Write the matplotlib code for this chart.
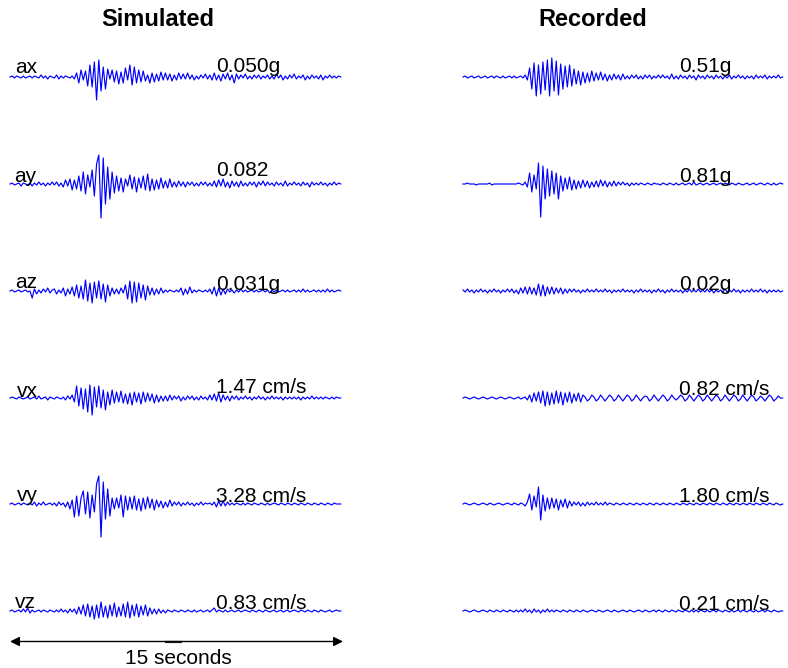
import numpy as np
import matplotlib
matplotlib.use("Agg")
import matplotlib.pyplot as plt

plt.rcParams['font.family'] = ['Liberation Sans', 'DejaVu Sans']

# ---------------- data (trace deflections, sampled every 0.1 s) ----------------
components = ["ax", "ay", "az", "vx", "vy", "vz"]
sim_peaks = ["0.050g", "0.082", "0.031g", "1.47 cm/s", "3.28 cm/s", "0.83 cm/s"]
rec_peaks = ["0.51g", "0.81g", "0.02g", "0.82 cm/s", "1.80 cm/s", "0.21 cm/s"]

sim_ax = [0,1,-1,1,0,-1,1,-1,0,1,
          -1,1,0,-1,2,-1,1,-2,1,0,
          -1,2,-2,1,-1,1,0,-1,1,-2,
          4,-6,7,-3,6,-9,12,-10,15,-23,
          17,-14,10,-12,8,-2,7,-5,6,-7,
          5,-6,9,-3,12,-8,10,-6,7,-5,
          6,-4,2,-6,4,-5,3,-4,5,-3,
          4,-3,3,-4,2,-3,4,-2,3,-2,
          4,-2,2,-3,1,-2,2,-1,3,-2,
          2,-3,4,-3,2,-4,3,-2,4,-3,
          2,-6,3,-2,2,-1,3,-2,1,-2,
          2,-1,2,-2,1,-1,2,-2,1,-2,
          3,-1,2,-3,1,-2,2,-1,3,-2,
          1,-1,2,-3,1,-2,2,-1,1,-2,
          2,-3,1,-1,2,-1,1,-1,1,0]
sim_ay = [0,1,-1,0,1,-2,1,0,-1,1,
          -2,1,-1,2,-1,1,-2,1,-1,2,
          -1,2,-2,1,-3,4,-2,5,-6,4,
          -5,8,-7,12,-10,9,-3,14,-12,20,
          29,-34,26,-20,17,-15,12,-9,8,-7,
          6,-8,5,-2,9,-5,7,-8,6,-4,
          8,-6,10,-7,5,-6,4,-5,6,-4,
          3,-4,5,-3,2,-3,3,-2,2,-3,
          2,-1,2,-2,1,-2,2,-1,2,-2,
          1,-2,3,-3,4,-2,5,-3,2,-4,
          3,-2,2,-3,3,-2,1,-2,2,-1,
          2,-3,2,-1,3,-2,2,-1,1,-2,
          2,-1,1,-2,3,-2,1,-1,2,-1,
          1,-2,2,-1,1,-3,2,-1,1,-1,
          2,-1,1,-2,1,-1,2,-1,1,0]
sim_az = [0,1,-1,0,1,-1,0,1,-1,0,
          -7,2,-3,1,-2,2,-1,3,-2,1,
          2,-3,1,-2,3,-5,2,-3,4,-5,
          6,-7,5,-8,11,-10,8,-12,9,-7,
          10,-8,7,-11,6,-5,3,-3,2,-3,
          3,-2,6,-8,10,-12,9,-11,8,-7,
          6,-9,5,-4,3,-4,2,-3,3,-2,
          1,-1,1,0,-1,1,-1,3,-4,2,
          -3,4,-2,1,-1,1,0,-1,1,-1,
          2,-3,4,-5,3,-4,2,-3,2,-1,
          1,-2,1,-1,2,-1,1,-1,0,1,
          -1,1,-1,0,1,-1,1,-2,1,-1,
          1,-1,0,1,-1,1,-1,0,1,-1,
          1,-1,2,-1,1,-1,0,1,-1,1,
          -1,1,-1,2,-1,1,-1,0,1,0]
sim_vx = [0,1,0,-1,1,0,-1,0,1,-1,
          0,1,-1,2,-1,0,1,-2,1,0,
          -1,1,0,-1,1,-2,2,-1,3,-4,
          12,-8,10,-11,9,-14,13,-17,11,-9,
          12,-10,8,-12,6,-7,8,-5,6,-4,
          7,-5,4,-6,5,-7,6,-4,5,-6,
          6,-4,5,-3,4,-5,3,-4,2,-3,
          2,-3,3,-2,2,-1,2,-3,1,-2,
          2,-1,2,-2,1,-2,2,-1,1,-2,
          3,-2,4,-3,5,-4,3,-2,2,-3,
          2,-1,2,-2,1,-1,2,-1,1,-2,
          1,-1,2,-1,1,-2,1,-1,2,-1,
          1,-1,1,-2,1,-1,1,-1,1,-1,
          1,-2,1,-1,1,-1,2,-1,1,-1,
          1,-1,1,0,-1,1,-1,1,0,0]
sim_vy = [0,1,-1,0,1,-1,1,0,-1,1,
          -1,2,-2,1,-1,2,-1,0,1,-1,
          1,-2,2,-1,1,-3,2,-5,4,-13,
          8,-12,6,13,-10,12,-14,9,-8,20,
          28,-33,22,-15,15,-12,6,-5,6,-4,
          9,-13,8,-6,7,-5,8,-6,5,-7,
          6,-5,7,-4,5,-6,4,-3,3,-4,
          2,-3,4,-2,2,-1,2,-2,1,-1,
          2,-1,1,-2,1,-1,2,-1,1,0,
          1,-1,2,-3,3,-2,3,-2,2,-1,
          1,-1,1,0,-1,1,-1,1,0,-1,
          1,0,-1,1,0,-1,1,-1,0,1,
          0,-1,1,0,-1,1,0,-1,1,0,
          -1,1,0,-1,1,0,-1,1,0,-1,
          1,0,-1,1,0,-1,1,0,0,0]
sim_vz = [0,1,-1,0,1,-1,2,-1,3,-2,
          1,-1,0,1,-1,1,0,-1,1,0,
          -1,1,-1,2,-1,1,-2,2,-1,2,
          -3,4,-3,6,-5,7,-6,5,-8,6,
          -7,9,-6,5,-7,6,-5,8,-6,4,
          -5,7,-6,9,-7,6,-5,7,-6,5,
          -4,6,-5,3,-3,2,-3,2,-2,1,
          -2,1,0,-1,1,0,-1,1,0,-1,
          1,0,-1,1,-1,0,1,-1,0,1,
          -1,1,3,-1,1,0,-1,1,-1,0,
          1,-1,0,1,-1,0,1,0,-1,1,
          0,-1,1,0,-1,1,0,-1,0,1,
          -1,0,1,-1,0,1,-1,0,1,0,
          -1,1,0,-1,1,0,-1,1,0,-1,
          1,0,-1,0,1,-1,0,1,0,0]

rec_ax = [0,1,-1,0,1,-1,0,1,-1,0,
          1,-1,0,1,-1,1,0,-1,1,-1,
          0,1,-1,1,-1,0,1,-1,2,-3,
          9,-12,14,-19,12,-17,15,-13,17,-19,
          19,-14,16,-18,13,-12,11,-10,12,-9,
          8,-7,6,-8,5,-6,4,-5,6,-4,
          4,-3,5,-3,3,-4,2,-3,3,-2,
          2,-3,3,-2,1,-2,2,-1,2,-2,
          1,-2,2,-1,2,-2,1,-1,2,-1,
          2,-1,1,-2,3,-2,1,-2,2,-1,
          1,-2,2,-1,1,-3,2,-1,1,-2,
          2,-1,1,-2,2,-1,1,-2,1,-1,
          2,-2,1,-1,2,-1,1,-2,1,-1,
          1,-2,2,-1,1,-1,2,-2,1,-1,
          1,-1,2,-1,0]
rec_ay = [0,0,1,0,0,0,-1,0,0,0,
          0,0,1,-1,0,0,0,0,0,0,
          0,0,0,0,0,1,0,-1,2,-3,
          11,-8,9,-5,21,-33,18,-15,15,-12,
          13,-10,11,-15,8,-7,6,-5,7,-6,
          4,-5,3,-4,4,-3,3,-4,2,-3,
          3,-3,4,-2,3,-3,2,-2,3,-2,
          2,-1,2,-1,1,-2,1,-1,1,-1,
          1,0,-1,1,0,-1,1,0,0,-1,
          1,0,-1,1,0,-1,1,-1,0,1,
          -1,0,1,-1,2,-1,0,1,-1,0,
          1,-1,0,1,-1,0,1,-1,1,0,
          -1,1,0,-1,1,0,-1,0,1,-1,
          0,1,-1,0,1,0,-1,1,0,-1,
          1,-1,0,1,0]
rec_az = [1,-1,2,-1,1,-2,1,-1,2,-1,
          1,-2,1,-1,2,-1,1,-2,1,-1,
          2,-1,2,-2,1,-3,3,-2,4,-3,
          4,-3,3,-4,7,-5,6,-5,4,-3,
          4,-3,3,-2,3,-3,2,-2,2,-1,
          2,-1,1,-2,1,-1,2,-1,1,-1,
          2,-1,1,-1,2,-1,1,-2,1,-1,
          1,-1,2,-1,1,-1,1,-2,1,-1,
          2,-1,1,-1,1,-2,1,-1,2,-1,
          1,-2,1,-1,2,-1,1,-1,1,-2,
          1,-1,2,-1,1,-1,2,-1,1,-1,
          2,-1,1,-2,1,-1,1,-1,2,-1,
          1,-1,2,-1,1,-2,1,-1,1,-1,
          2,-1,1,-1,2,-1,1,-2,1,-1,
          1,-1,1,-1,0]
rec_vx = [0,1,0,-1,0,1,0,-1,0,1,
          0,-1,0,1,0,-1,0,1,0,-1,
          0,1,0,-1,0,1,-1,0,1,-2,
          3,-4,5,-3,6,-5,7,-8,6,-7,
          5,-6,7,-5,6,-7,5,-4,6,-5,
          4,-3,5,-4,3,1,-3,-1,3,1,
          -3,-1,3,0,-3,0,3,1,-3,-1,
          3,0,-3,0,3,1,-3,-1,3,0,
          -3,0,2,1,-3,-1,3,0,-3,0,
          3,1,-3,-1,3,0,-2,0,3,1,
          -3,-1,3,0,-3,0,3,1,-3,-1,
          3,0,-3,0,3,1,-3,-1,3,0,
          -3,0,3,1,-3,-1,3,0,-3,0,
          3,1,-3,-1,2,0,-3,0,3,1,
          -3,-1,2,0,0]
rec_vy = [0,1,0,-1,0,1,0,-1,0,1,
          0,-1,1,0,-1,0,1,0,-1,0,
          1,0,-1,1,0,-1,1,0,-2,2,
          10,-6,8,-3,17,-16,9,-7,6,-5,
          6,-4,5,-6,4,-3,5,-4,3,-2,
          2,-1,2,-2,1,-2,2,-1,1,-1,
          2,-1,1,-1,2,-1,1,0,-1,1,
          0,-1,1,0,-1,1,0,-1,1,0,
          -1,1,0,-1,1,0,-1,1,0,-1,
          1,0,-1,1,0,-1,1,0,-1,1,
          0,-1,1,0,-1,1,0,-1,1,0,
          -1,1,0,-1,1,0,-1,1,0,-1,
          1,0,-1,1,0,-1,1,0,-1,1,
          0,-1,1,0,-1,1,0,-1,1,0,
          -1,1,0,-1,0]
rec_vz = [0,1,0,-1,0,1,0,-1,0,1,
          0,-1,1,0,-1,1,0,-1,1,0,
          -1,1,0,-1,1,-1,1,-1,2,-1,
          1,-2,2,-1,1,-2,1,-1,2,-1,
          1,-1,1,0,-1,1,0,-1,1,0,
          -1,1,0,-1,1,0,-1,0,1,0,
          -1,1,0,-1,0,1,0,-1,1,0,
          -1,0,1,0,-1,1,0,-1,0,1,
          0,-1,1,0,-1,0,1,-1,1,0,
          -1,1,0,-1,1,0,-1,1,0,-1,
          1,0,-1,1,-1,1,-1,1,0,-1,
          1,-1,0,1,-1,1,0,-1,1,0,
          -1,1,-1,0,1,-1,1,0,-1,1,
          0,-1,1,-1,0,1,-1,1,0,-1,
          1,0,-1,0,0]

sim_traces = [sim_ax, sim_ay, sim_az, sim_vx, sim_vy, sim_vz]
rec_traces = [rec_ax, rec_ay, rec_az, rec_vx, rec_vy, rec_vz]

# ---------------- layout ----------------
W, H = 788, 668
dt = 0.1                 # seconds per sample
px_per_s = 22.2          # horizontal scale
x0_px = 10               # left edge of simulated column
rec_offset = (463 - 10) / px_per_s   # start of recorded column, in seconds
row_base = [77, 184, 291, 398, 504, 611]
label_x = [15, 14, 15, 17, 17, 15]
label_y = [73, 182, 288, 397, 501, 608]
sim_val_y = [72.5, 175.5, 290, 393, 502, 609]
rec_val_y = [72.5, 181.5, 290, 395, 502, 610]

fig = plt.figure(figsize=(W / 100, H / 100), dpi=100)
ax = fig.add_axes([0, 0, 1, 1])
ax.set_xlim(-x0_px / px_per_s, (W - x0_px) / px_per_s)
ax.set_ylim(H, 0)
ax.axis('off')

blue = '#0000ff'
fs = 15
for i in range(6):
    s = np.asarray(sim_traces[i], dtype=float)
    r = np.asarray(rec_traces[i], dtype=float)
    ts = np.arange(len(s)) * dt
    tr = rec_offset + np.arange(len(r)) * dt
    ax.plot(ts, row_base[i] - s, color=blue, lw=0.85)
    ax.plot(tr, row_base[i] - r, color=blue, lw=0.85)
    ax.text((label_x[i] - x0_px) / px_per_s, label_y[i], components[i],
            fontsize=fs, va='baseline', ha='left', color='black')
    ax.text((216 - x0_px) / px_per_s, sim_val_y[i], sim_peaks[i],
            fontsize=fs, va='baseline', ha='left', color='black')
    ax.text((679 - x0_px) / px_per_s, rec_val_y[i], rec_peaks[i],
            fontsize=fs, va='baseline', ha='left', color='black')

ax.text((158 - x0_px) / px_per_s, 26, "Simulated", fontsize=17,
        fontweight='bold', ha='center', va='baseline')
ax.text((593 - x0_px) / px_per_s, 26, "Recorded", fontsize=17,
        fontweight='bold', ha='center', va='baseline')

# scale arrow: 15 seconds
ax.annotate('', xy=(0, 641.5), xytext=(15, 641.5),
            arrowprops=dict(arrowstyle='<|-|>', color='black', lw=1,
                            mutation_scale=14, shrinkA=0, shrinkB=0))
ax.plot([(165 - x0_px) / px_per_s, (182 - x0_px) / px_per_s], [641.5, 641.5],
        color='#222222', lw=1.6, solid_capstyle='butt')
ax.text(7.6, 664, "15 seconds", fontsize=fs, ha='center', va='baseline')

fig.savefig("out.png", dpi=100)
